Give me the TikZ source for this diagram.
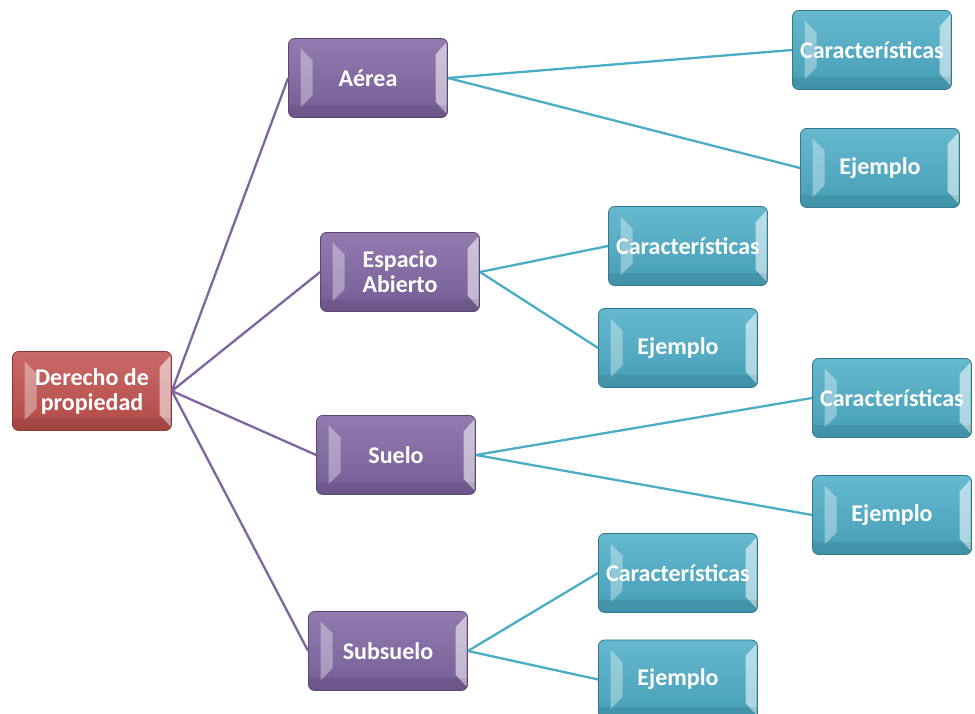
\documentclass[tikz,border=0pt]{standalone}
\usepackage{fontspec}
\setmainfont{Carlito}
\usetikzlibrary{calc}

\definecolor{rojo}{HTML}{C0504D}
\definecolor{morado}{HTML}{8064A2}
\definecolor{turquesa}{HTML}{4BACC6}

\tikzset{
  caja/.style={rectangle, rounded corners=6, minimum width=159, minimum height=79,
    inner sep=0, align=center, text=white,
    font=\fontsize{24}{25}\selectfont\bfseries,
    top color=#1!85!white, bottom color=#1!92!black, draw=#1!70!black, line width=0.8,
    path picture={
      \fill[sharp corners,white,opacity=0.35] ($(path picture bounding box.south west)+(12,10)$) -- ++(12,12)
        -- ($(path picture bounding box.north west)+(24,-22)$) -- ++(-12,12) -- cycle;
      \fill[sharp corners,white,opacity=0.55] ($(path picture bounding box.south east)+(-1,4)$) -- ++(-11,12)
        -- ($(path picture bounding box.north east)+(-12,-16)$) -- ++(11,12) -- cycle;
      \fill[sharp corners,black,opacity=0.08] (path picture bounding box.south west)
        rectangle ($(path picture bounding box.south east)+(0,12)$);
    }},
  rama/.style={line width=2.3, color=#1},
}

\begin{document}
\begin{tikzpicture}[x=1pt, y=1pt]

\useasboundingbox (0,0) rectangle (975,714);

\node[caja=rojo] (der) at (92,323) {Derecho de\\propiedad};

\node[caja=morado] (aer) at (368,636) {Aérea};
\node[caja=morado] (esp) at (400,442) {Espacio\\Abierto};
\node[caja=morado] (sue) at (396,259) {Suelo};
\node[caja=morado] (sub) at (388,63) {Subsuelo};

\node[caja=turquesa] (car1) at (872,664) {Características};
\node[caja=turquesa] (ej1) at (880,546) {Ejemplo};
\node[caja=turquesa] (car2) at (688,468) {Características};
\node[caja=turquesa] (ej2) at (678,366) {Ejemplo};
\node[caja=turquesa] (car3) at (892,316) {Características};
\node[caja=turquesa] (ej3) at (892,199) {Ejemplo};
\node[caja=turquesa] (car4) at (678,141) {Características};
\node[caja=turquesa] (ej4) at (678,34.5) {Ejemplo};

\draw[rama=morado] (der.east) -- (aer.west);
\draw[rama=morado] (der.east) -- (esp.west);
\draw[rama=morado] (der.east) -- (sue.west);
\draw[rama=morado] (der.east) -- (sub.west);

\draw[rama=turquesa] (aer.east) -- (car1.west);
\draw[rama=turquesa] (aer.east) -- (ej1.west);
\draw[rama=turquesa] (esp.east) -- (car2.west);
\draw[rama=turquesa] (esp.east) -- (ej2.west);
\draw[rama=turquesa] (sue.east) -- (car3.west);
\draw[rama=turquesa] (sue.east) -- (ej3.west);
\draw[rama=turquesa] (sub.east) -- (car4.west);
\draw[rama=turquesa] (sub.east) -- (ej4.west);

\end{tikzpicture}
\end{document}
